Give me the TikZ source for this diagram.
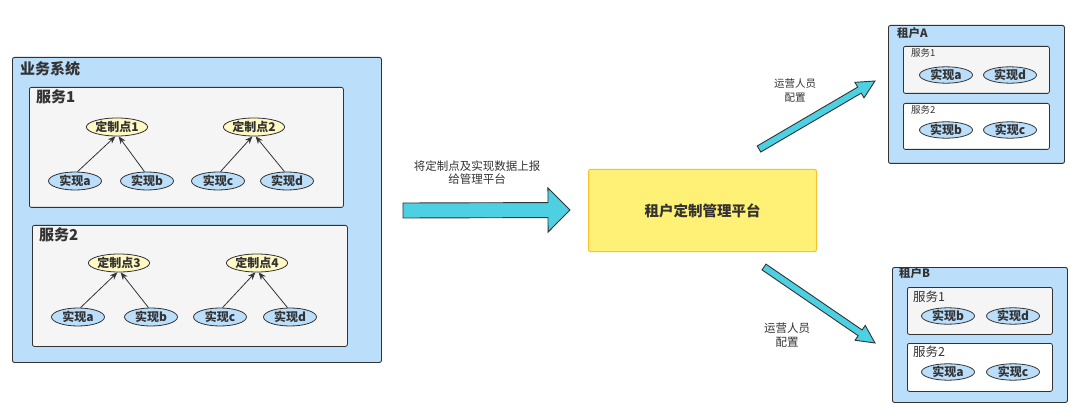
\documentclass[tikz,border=0pt]{standalone}
\usepackage{fontspec}
\setmainfont{Noto Sans CJK SC}
\usetikzlibrary{shapes.geometric,arrows.meta,calc}
\definecolor{bluebox}{RGB}{187,222,251}
\definecolor{graybox}{RGB}{245,245,245}
\definecolor{yellowell}{RGB}{255,249,196}
\definecolor{platfill}{RGB}{255,241,118}
\definecolor{platdraw}{RGB}{251,192,45}
\definecolor{arrowfill}{RGB}{77,208,225}
\definecolor{edgec}{RGB}{51,51,51}
\newcommand\fsz[1]{\fontsize{#1}{#1}\selectfont}
\newcommand\blockarr[5]{%
  \coordinate (ba-h) at ($(#2)!#5!(#1)$);
  \draw[blockarrow] ($(#1)!#3!90:(#2)$) -- ($(ba-h)!#3!-90:(#1)$) -- ($(ba-h)!#4!-90:(#1)$) -- (#2) -- ($(ba-h)!#4!90:(#1)$) -- ($(ba-h)!#3!90:(#1)$) -- ($(#1)!#3!-90:(#2)$) -- cycle;}
\begin{document}
\begin{tikzpicture}[x=1pt,y=-1pt,
  container/.style={draw=edgec, fill=bluebox, rounded corners=2pt, line width=0.9pt, inner sep=0pt, anchor=north west},
  svcbox/.style={draw=edgec, fill=graybox, rounded corners=2pt, line width=0.8pt, inner sep=0pt, anchor=north west},
  svcwhite/.style={svcbox, fill=white},
  implell/.style={ellipse, draw=edgec, fill=bluebox, line width=0.8pt, minimum width=53pt, minimum height=18pt, inner sep=0pt, text=edgec, font=\fsz{12}\bfseries},
  implsm/.style={implell, minimum height=15pt},
  cpell/.style={implell, fill=yellowell, minimum width=59pt},
  title/.style={anchor=west, inner sep=0pt, text=edgec},
  lbl/.style={align=center, inner sep=0pt, text=edgec},
  dep/.style={-{Stealth[length=7.5pt,width=6pt]}, draw=edgec, line width=0.8pt},
  blockarrow/.style={draw=edgec, fill=arrowfill, line width=0.9pt, line join=miter},
  platform/.style={draw=platdraw, fill=platfill, rounded corners=2pt, line width=1pt, inner sep=0pt, anchor=north west}
]
\fill[white] (0,0) rectangle (1080,417);
\useasboundingbox (0,0) rectangle (1080,417);

% ---------- left: business system ----------
\node[container, minimum width=369pt, minimum height=305pt] (sys) at (12,57) {};
\node[title, font=\fsz{15}\bfseries] (systitle) at (20,69) {业务系统};

\node[svcbox, minimum width=314pt, minimum height=120pt] (s1) at (29,87) {};
\node[title, font=\fsz{15}\bfseries] (s1t) at (36,97) {服务1};
\node[cpell] (cp1) at (117,127) {定制点1};
\node[cpell] (cp2) at (254,127) {定制点2};
\node[implell] (s1a) at (75,181) {实现a};
\node[implell] (s1b) at (147,181) {实现b};
\node[implell] (s1c) at (218,181) {实现c};
\node[implell] (s1d) at (287,181) {实现d};
\draw[dep] (s1a.75) -- (cp1.-100);
\draw[dep] (s1b.105) -- (cp1.-80);
\draw[dep] (s1c.75) -- (cp2.-100);
\draw[dep] (s1d.105) -- (cp2.-80);

\node[svcbox, minimum width=315pt, minimum height=121pt] (s2) at (32,225) {};
\node[title, font=\fsz{15}\bfseries] (s2t) at (39,235) {服务2};
\node[cpell] (cp3) at (119,263) {定制点3};
\node[cpell] (cp4) at (257,263) {定制点4};
\node[implell] (s2a) at (78,317) {实现a};
\node[implell] (s2b) at (151,317) {实现b};
\node[implell] (s2c) at (220,317) {实现c};
\node[implell] (s2d) at (290,317) {实现d};
\draw[dep] (s2a.75) -- (cp3.-100);
\draw[dep] (s2b.105) -- (cp3.-80);
\draw[dep] (s2c.75) -- (cp4.-100);
\draw[dep] (s2d.105) -- (cp4.-80);

% ---------- middle ----------
\node[lbl, font=\fsz{11.5}] (reportlbl) at (477,173) {将定制点及实现数据上报\\[1.5pt]给管理平台};
\coordinate (mT) at (403,210.5);
\coordinate (mP) at (570,210);
\blockarr{mT}{mP}{7.5pt}{22pt}{22pt}

\node[platform, minimum width=228pt, minimum height=82pt] (plat) at (588,169) {};
\node[font=\fsz{14.5}\bfseries, text=edgec, inner sep=0pt] (platt) at (plat.center) {租户定制管理平台};

% ---------- upper arrow ----------
\coordinate (uT) at (759,149);
\coordinate (uP) at (875,81);
\blockarr{uT}{uP}{3.5pt}{9pt}{18pt}
\node[lbl, font=\fsz{10.5}] (ulbl) at (795,90.5) {运营人员\\[3pt]配置};

% ---------- lower arrow ----------
\coordinate (lT) at (764,267);
\coordinate (lP) at (875,343);
\blockarr{lT}{lP}{3.5pt}{9pt}{18pt}
\node[lbl, font=\fsz{11.5}] (llbl) at (787,335) {运营人员\\[3pt]配置};

% ---------- tenant A ----------
\node[container, minimum width=176pt, minimum height=138pt] (tA) at (888,25) {};
\node[title, font=\fsz{11.5}\bfseries] (tAt) at (897,33) {租户A};
\node[svcbox, minimum width=146pt, minimum height=47pt] (tA1) at (903,46) {};
\node[title, font=\fsz{9.5}] (tA1t) at (911,53) {服务1};
\node[implsm] (tA1a) at (946,75) {实现a};
\node[implsm] (tA1d) at (1010,75) {实现d};
\node[svcwhite, minimum width=146pt, minimum height=46pt] (tA2) at (903,103) {};
\node[title, font=\fsz{9.5}] (tA2t) at (911,110) {服务2};
\node[implsm] (tA2b) at (946,130) {实现b};
\node[implsm] (tA2c) at (1010,130) {实现c};

% ---------- tenant B ----------
\node[container, minimum width=175pt, minimum height=135pt] (tB) at (892,267) {};
\node[title, font=\fsz{11.5}\bfseries] (tBt) at (899,273) {租户B};
\node[svcbox, minimum width=145pt, minimum height=47pt] (tB1) at (907,287) {};
\node[title, font=\fsz{12.5}] (tB1t) at (913,297) {服务1};
\node[implsm] (tB1b) at (948,316) {实现b};
\node[implsm] (tB1d) at (1013,316) {实现d};
\node[svcwhite, minimum width=145pt, minimum height=48pt] (tB2) at (907,343) {};
\node[title, font=\fsz{12.5}] (tB2t) at (913,352) {服务2};
\node[implsm] (tB2a) at (948,372) {实现a};
\node[implsm] (tB2c) at (1013,372) {实现c};
\end{tikzpicture}
\end{document}
